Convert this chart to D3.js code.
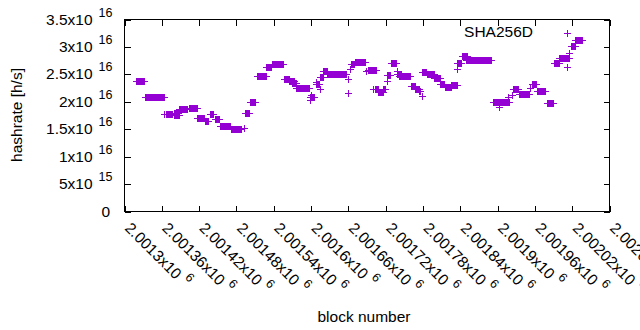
<!DOCTYPE html>
<html>
<head>
<meta charset="utf-8">
<script src="https://cdn.jsdelivr.net/npm/d3@7"></script>
<style>
  body { margin: 0; background: #fff; }
  text { font-family: "Liberation Sans", Arial, sans-serif; fill: #000; }
</style>
</head>
<body>
<div id="chart"></div>
<script>
// runs of blocks sharing one hashrate estimate (start block, end block, value)
var segStart = [2001318, 2001333, 2001363, 2001366, 2001380, 2001379, 2001387, 2001404, 2001417, 2001429,
                2001437, 2001445, 2001454, 2001471, 2001492, 2001494, 2001502, 2001513, 2001528, 2001537,
                2001557, 2001565, 2001569, 2001576, 2001599, 2001599, 2001600, 2001608, 2001608, 2001614,
                2001615, 2001620, 2001626, 2001659, 2001660, 2001662, 2001664, 2001671, 2001689, 2001691,
                2001700, 2001703, 2001708, 2001716, 2001722, 2001722, 2001728, 2001739, 2001738, 2001742,
                2001761, 2001767, 2001773, 2001778, 2001778, 2001787, 2001798, 2001808, 2001816, 2001825,
                2001835, 2001835, 2001842, 2001850, 2001893, 2001903, 2001904, 2001917, 2001923, 2001924,
                2001935, 2001952, 2001955, 2001964, 2001979, 2001991, 2001999, 2002012, 2002012, 2002015,
                2002018, 2002024];
var segEnd =   [2001331, 2001364, 2001363, 2001377, 2001386, 2001388, 2001400, 2001416, 2001428, 2001435,
                2001443, 2001452, 2001470, 2001488, 2001492, 2001500, 2001510, 2001528, 2001536, 2001555,
                2001565, 2001573, 2001576, 2001596, 2001599, 2001604, 2001600, 2001608, 2001612, 2001614,
                2001619, 2001625, 2001657, 2001659, 2001660, 2001662, 2001669, 2001687, 2001689, 2001704,
                2001700, 2001708, 2001716, 2001719, 2001722, 2001727, 2001736, 2001739, 2001744, 2001759,
                2001767, 2001774, 2001776, 2001778, 2001785, 2001798, 2001807, 2001814, 2001825, 2001834,
                2001835, 2001841, 2001851, 2001890, 2001902, 2001903, 2001918, 2001917, 2001923, 2001933,
                2001951, 2001952, 2001962, 2001977, 2001989, 2001998, 2002015, 2002012, 2002012, 2002015,
                2002024, 2002036];
var segHashrate = [2.38e16, 2.09e16, 1.78e16, 1.78e16, 1.80e16, 1.76e16, 1.87e16, 1.89e16, 1.71e16, 1.65e16,
                   1.77e16, 1.69e16, 1.56e16, 1.50e16, 1.53e16, 1.80e16, 2.00e16, 2.47e16, 2.64e16, 2.68e16,
                   2.42e16, 2.37e16, 2.35e16, 2.25e16, 2.04e16, 2.08e16, 2.12e16, 2.36e16, 2.33e16, 2.24e16,
                   2.46e16, 2.57e16, 2.51e16, 2.16e16, 2.42e16, 2.59e16, 2.68e16, 2.73e16, 2.57e16, 2.58e16,
                   2.24e16, 2.24e16, 2.18e16, 2.24e16, 2.37e16, 2.49e16, 2.70e16, 2.57e16, 2.50e16, 2.47e16,
                   2.29e16, 2.23e16, 2.19e16, 2.10e16, 2.55e16, 2.51e16, 2.44e16, 2.33e16, 2.27e16, 2.30e16,
                   2.60e16, 2.71e16, 2.84e16, 2.77e16, 2.00e16, 1.91e16, 1.99e16, 2.08e16, 2.13e16, 2.23e16,
                   2.15e16, 2.25e16, 2.33e16, 2.20e16, 1.98e16, 2.71e16, 2.80e16, 3.26e16, 2.63e16, 2.89e16,
                   3.01e16, 3.12e16];

var xTicks = [2001300, 2001360, 2001420, 2001480, 2001540, 2001600, 2001660, 2001720,
              2001780, 2001840, 2001900, 2001960, 2002020, 2002080];
var xTickLabels = ["2.0013", "2.00136", "2.00142", "2.00148", "2.00154", "2.0016", "2.00166", "2.00172",
                   "2.00178", "2.00184", "2.0019", "2.00196", "2.00202", "2.00208"];
var yTicks = [0, 5e15, 1e16, 1.5e16, 2e16, 2.5e16, 3e16, 3.5e16];
var yTickMant = ["0", "5", "1", "1.5", "2", "2.5", "3", "3.5"];
var yTickExp = ["", "15", "16", "16", "16", "16", "16", "16"];

var seriesName = "SHA256D";

var segs = segStart.map(function(s, i) { return {a: s, b: segEnd[i], v: segHashrate[i]}; });

var svg = d3.select("#chart").append("svg")
    .attr("width", 640)
    .attr("height", 330);

var x = d3.scaleLinear().domain([2001300, 2002080]).range([124.5, 609.5]);
var y = d3.scaleLinear().domain([0, 3.5e16]).range([211.5, 19.5]);

// tick marks (inward, mirrored on all sides)
svg.append("g").attr("transform", "translate(0,211.5)")
    .call(d3.axisBottom(x).tickValues(xTicks).tickSizeInner(-6).tickSizeOuter(0).tickFormat(""));
svg.append("g").attr("transform", "translate(0,19.5)")
    .call(d3.axisTop(x).tickValues(xTicks).tickSizeInner(-6).tickSizeOuter(0).tickFormat(""));
svg.append("g").attr("transform", "translate(124.5,0)")
    .call(d3.axisLeft(y).tickValues(yTicks).tickSizeInner(-6).tickSizeOuter(0).tickFormat(""));
svg.append("g").attr("transform", "translate(609.5,0)")
    .call(d3.axisRight(y).tickValues(yTicks).tickSizeInner(-6).tickSizeOuter(0).tickFormat(""));
svg.selectAll(".domain").remove();
svg.selectAll(".tick line").attr("stroke", "#000").attr("shape-rendering", "crispEdges");

svg.append("rect")
    .attr("x", 124.5).attr("y", 19.5)
    .attr("width", 485).attr("height", 192)
    .attr("fill", "none").attr("stroke", "#000").attr("shape-rendering", "crispEdges");

// y tick labels
var yl = svg.append("g").selectAll("text")
    .data(yTicks)
    .enter()
    .append("text")
      .attr("x", function(d, i) { return yTickExp[i] ? 112.5 : 110; })
      .attr("y", function(d) { return y(d) + 5; })
      .attr("text-anchor", "end")
      .style("font-size", "15.5px");
yl.append("tspan").text(function(d, i) { return yTickMant[i] === "0" ? "0" : yTickMant[i] + "x10"; });
yl.append("tspan")
    .attr("dx", function(d, i) { return yTickExp[i] ? 6 : 0; })
    .attr("dy", -8)
    .style("font-size", "12.5px")
    .text(function(d, i) { return yTickExp[i]; });

// x tick labels, rotated
var xl = svg.append("g").selectAll("text")
    .data(xTicks)
    .enter()
    .append("text")
      .attr("transform", function(d) { return "translate(" + (x(d) - 0.5) + ",229) rotate(45)"; })
      .style("font-size", "15.5px");
xl.append("tspan").text(function(d, i) { return xTickLabels[i] + "x10"; });
xl.append("tspan").attr("dx", 5).attr("dy", -8).style("font-size", "12.5px").text("6");

// hashrate points: gnuplot "+" marks, runs merge into bands
var pts = svg.append("g").attr("shape-rendering", "crispEdges");
pts.selectAll("rect.band")
    .data(segs)
    .enter()
    .append("rect")
      .attr("class", "band")
      .attr("x", function(d) { return Math.round(x(d.a)) - 0.5; })
      .attr("y", function(d) { return Math.round(y(d.v)) - 3; })
      .attr("width", function(d) { return Math.round(x(d.b)) - Math.round(x(d.a)) + 1; })
      .attr("height", 7)
      .attr("fill", "#9400d3");
pts.selectAll("line.arm")
    .data(segs)
    .enter()
    .append("line")
      .attr("class", "arm")
      .attr("x1", function(d) { return Math.round(x(d.a)) - 3.5; })
      .attr("x2", function(d) { return Math.round(x(d.b)) + 3.5; })
      .attr("y1", function(d) { return Math.round(y(d.v)) + 0.5; })
      .attr("y2", function(d) { return Math.round(y(d.v)) + 0.5; })
      .attr("stroke", "#9400d3")
      .attr("stroke-width", 1);

// key and axis titles
svg.append("text")
    .attr("x", 533).attr("y", 37)
    .attr("text-anchor", "end")
    .style("font-size", "15.5px")
    .text(seriesName);

svg.append("text")
    .attr("transform", "translate(22,115) rotate(-90)")
    .attr("text-anchor", "middle")
    .style("font-size", "15.5px")
    .text("hashrate [h/s]");

svg.append("text")
    .attr("x", 364).attr("y", 322)
    .attr("text-anchor", "middle")
    .style("font-size", "15.5px")
    .text("block number");
</script>
</body>
</html>
